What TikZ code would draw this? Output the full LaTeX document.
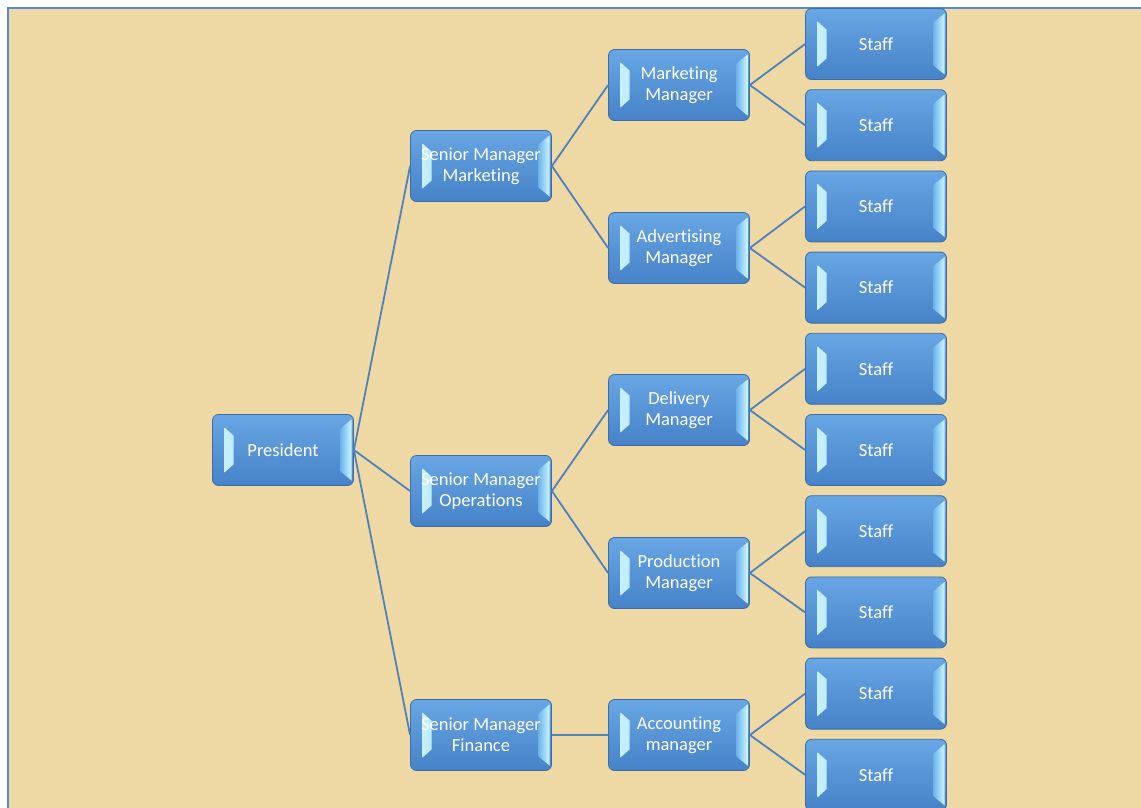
\documentclass[tikz,border=0pt]{standalone}
\usepackage{fontspec}
\setmainfont[Ligatures=NoCommon]{Carlito}
\usetikzlibrary{positioning}

\definecolor{parch}{RGB}{238,216,164}
\definecolor{framebl}{RGB}{84,141,212}
\definecolor{linkbl}{RGB}{79,129,189}
\definecolor{boxtop}{RGB}{104,166,228}
\definecolor{boxbot}{RGB}{70,130,200}
\definecolor{boxedge}{RGB}{60,108,170}
\definecolor{bevlight}{RGB}{205,246,255}
\definecolor{bevdark}{RGB}{110,180,236}

\begin{document}
\begin{tikzpicture}[x=1pt,y=-1pt,
	orgbox/.style={rounded corners=6pt, draw=boxedge, line width=.8pt,
		top color=boxtop, bottom color=boxbot, text=white,
		minimum width=141pt, minimum height=71pt, inner sep=0pt, align=center,
		font=\fontsize{18.5}{21}\selectfont,
		path picture={
			\shade[sharp corners, left color=bevlight, right color=bevdark]
				([shift={(12,13)}]path picture bounding box.north west) --
				([shift={(21,21)}]path picture bounding box.north west) --
				([shift={(21,-21)}]path picture bounding box.south west) --
				([shift={(12,-13)}]path picture bounding box.south west) -- cycle;
			\shade[sharp corners, left color=bevdark, right color=bevlight]
				([shift={(-13,14)}]path picture bounding box.north east) --
				([shift={(-2,5)}]path picture bounding box.north east) --
				([shift={(-2,-5)}]path picture bounding box.south east) --
				([shift={(-13,-14)}]path picture bounding box.south east) -- cycle;}},
	link/.style={draw=linkbl, line width=1.8pt}]
	\useasboundingbox (0,0) rectangle (1141,808);
	% page and frame
	\fill[white] (0,0) rectangle (1141,808);
	\fill[parch] (8,8) rectangle (1141,808);
	\draw[framebl, line width=2pt] (8,808) -- (8,8) -- (1141,8);
	% people
	\node[orgbox] (pres) at (283,450) {President};
	\node[orgbox] (smm) at (481,166) {Senior Manager\\Marketing};
	\node[orgbox] (smo) at (481,491) {Senior Manager\\Operations};
	\node[orgbox] (smf) at (481,735) {Senior Manager\\Finance};
	\node[orgbox] (mm) at (679,85) {Marketing\\Manager};
	\node[orgbox] (am) at (679,248) {Advertising\\Manager};
	\node[orgbox] (dm) at (679,410) {Delivery\\Manager};
	\node[orgbox] (pm) at (679,573) {Production\\Manager};
	\node[orgbox] (acm) at (679,735) {Accounting\\manager};
	\foreach \i in {1,...,10}
		\node[orgbox] (s\i) at (876,{44+81.2*(\i-1)}) {Staff};
	% links
	\draw[link] (pres.east) -- (smm.west);
	\draw[link] (pres.east) -- (smo.west);
	\draw[link] (pres.east) -- (smf.west);
	\draw[link] (smm.east) -- (mm.west);
	\draw[link] (smm.east) -- (am.west);
	\draw[link] (smo.east) -- (dm.west);
	\draw[link] (smo.east) -- (pm.west);
	\draw[link] (smf.east) -- (acm.west);
	\draw[link] (mm.east) -- (s1.west);
	\draw[link] (mm.east) -- (s2.west);
	\draw[link] (am.east) -- (s3.west);
	\draw[link] (am.east) -- (s4.west);
	\draw[link] (dm.east) -- (s5.west);
	\draw[link] (dm.east) -- (s6.west);
	\draw[link] (pm.east) -- (s7.west);
	\draw[link] (pm.east) -- (s8.west);
	\draw[link] (acm.east) -- (s9.west);
	\draw[link] (acm.east) -- (s10.west);
\end{tikzpicture}
\end{document}
